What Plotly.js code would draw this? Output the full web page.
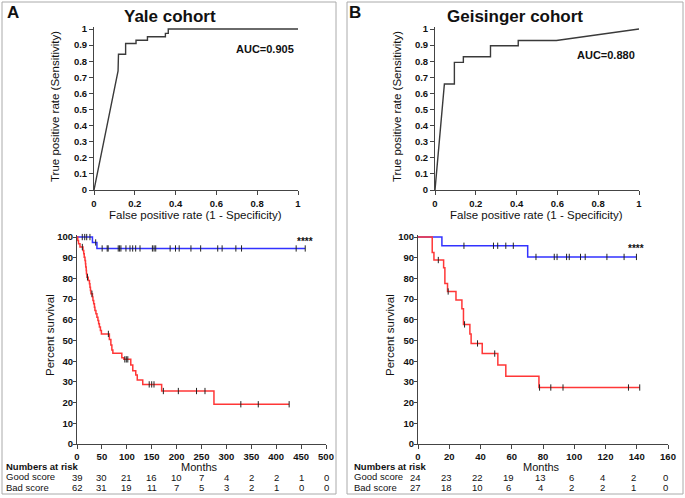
<!DOCTYPE html>
<html>
<head>
<meta charset="utf-8">
<script src="https://cdn.plot.ly/plotly-3.0.1.min.js"></script>
<style>
html,body{margin:0;padding:0;background:#fff;}
#chart{width:685px;height:498px;}
</style>
</head>
<body>
<div id="chart"></div>
<script>
// ---------------- DATA ----------------
// ROC curves
const rocA_fpr = [0, 0.118, 0.12, 0.155, 0.155, 0.206, 0.206, 0.262, 0.262, 0.35, 0.35, 0.364, 0.364, 1];
const rocA_tpr = [0, 0.74, 0.843, 0.843, 0.91, 0.91, 0.93, 0.93, 0.952, 0.952, 0.973, 0.973, 1, 1];
const rocB_fpr = [0, 0.046, 0.095, 0.095, 0.139, 0.139, 0.272, 0.272, 0.408, 0.408, 0.595, 1];
const rocB_tpr = [0, 0.658, 0.658, 0.793, 0.793, 0.828, 0.828, 0.896, 0.896, 0.929, 0.929, 1];
const aucA = "AUC=0.905";
const aucB = "AUC=0.880";

// Kaplan-Meier, Yale cohort
const kmA_good_t = [0, 31, 40, 458];
const kmA_good_s = [100, 97.4, 94.5, 94.5];
const kmA_good_cens_t = [10.6, 15.5, 19.5, 26, 37.5, 50.5, 60.6, 62.6, 82.8, 85.5, 88.2, 98.3, 106.4, 111.8, 117.8, 126.5, 151.4, 154.8, 158.1, 187, 197.8, 205.2, 228.8, 248.3, 282.6, 291.4, 319, 330.4, 440.1, 458.3];
const kmA_good_cens_s = [100, 100, 100, 100, 97.4, 94.5, 94.5, 94.5, 94.5, 94.5, 94.5, 94.5, 94.5, 94.5, 94.5, 94.5, 94.5, 94.5, 94.5, 94.5, 94.5, 94.5, 94.5, 94.5, 94.5, 94.5, 94.5, 94.5, 94.5, 94.5];
const kmA_bad_t = [0, 1.5, 3, 6, 12, 13.5, 14.5, 16, 17, 17.5, 18.5, 19, 20, 22.5, 25, 26, 27, 28, 31, 32, 33.5, 35, 36, 38, 40, 42, 43.5, 45, 47, 49, 65, 68, 70, 72, 90, 94, 108, 112, 118, 121, 132, 170, 275, 426];
const kmA_bad_s = [100, 98.4, 96.8, 95.2, 93.5, 91.9, 90.3, 88.7, 87.1, 85.5, 83.9, 82.3, 80.6, 79, 77.4, 75.8, 74.2, 72.6, 71, 69.4, 67.8, 66.1, 64.5, 62.9, 61.3, 59.7, 58.1, 56.5, 54.8, 53.2, 50.5, 47.8, 45.4, 43.8, 41.7, 40.9, 38.2, 35.4, 33.3, 30.9, 28.8, 25.6, 19.2, 19.2];
const kmA_bad_cens_t = [10.7, 21, 30, 63, 96, 99, 102, 145, 150, 154.6, 173.4, 203.5, 240, 257, 329, 364, 426];
const kmA_bad_cens_s = [95.2, 80.6, 72.6, 53.2, 40.9, 40.9, 40.9, 28.8, 28.8, 28.8, 25.6, 25.6, 25.6, 25.6, 19.2, 19.2, 19.2];

// Kaplan-Meier, Geisinger cohort
const kmB_good_t = [0, 15.3, 70.2, 139.8];
const kmB_good_s = [100, 95.8, 90.4, 90.4];
const kmB_good_cens_t = [29.4, 48.3, 51, 56.2, 61, 75.5, 87.2, 89, 95.1, 96.8, 104, 107, 120.9, 131.9, 139.8];
const kmB_good_cens_s = [95.8, 95.8, 95.8, 95.8, 95.8, 90.4, 90.4, 90.4, 90.4, 90.4, 90.4, 90.4, 90.4, 90.4, 90.4];
const kmB_bad_t = [0, 9.1, 10.2, 16.4, 17.2, 18.9, 24.3, 28.1, 29.1, 33.2, 34, 41.1, 51.1, 56.2, 77.4, 141.9];
const kmB_bad_s = [100, 92.6, 88.9, 85.2, 77.6, 73.7, 69.6, 65.4, 57.8, 53.2, 48.6, 43.7, 38.2, 32.8, 27.3, 27.3];
const kmB_bad_cens_t = [13, 19.3, 29.8, 38.1, 49.1, 77.8, 85, 92.8, 134.7, 141.9];
const kmB_bad_cens_s = [88.9, 73.7, 57.8, 48.6, 43.7, 27.3, 27.3, 27.3, 27.3, 27.3];

// Numbers at risk
const riskA_months = [0, 50, 100, 150, 200, 250, 300, 350, 400, 450, 500];
const riskA_good = [39, 30, 21, 16, 10, 7, 4, 2, 2, 1, 0];
const riskA_bad = [62, 31, 19, 11, 7, 5, 3, 2, 1, 0, 0];
const riskB_months = [0, 20, 40, 60, 80, 100, 120, 140, 160];
const riskB_good = [24, 23, 22, 19, 13, 6, 4, 2, 0];
const riskB_bad = [27, 18, 10, 6, 4, 2, 2, 1, 0];

// ---------------- STYLE ----------------
const W = 685, H = 498;
const FONT = "Arial, 'Liberation Sans', Helvetica, sans-serif";
const BLUE = "rgb(50,50,255)";
const RED = "rgb(255,55,55)";
const ROC_COL = "#3a3a3a";
const AX_COL = "#444444";
const px = v => v / W;
const py = v => 1 - v / H;

function rocTrace(x, y, xa, ya) {
  return {x: x, y: y, xaxis: xa, yaxis: ya, type: "scatter", mode: "lines",
          line: {color: ROC_COL, width: 1.4}, hoverinfo: "skip", showlegend: false};
}
function kmTrace(t, s, col, xa, ya) {
  return {x: t, y: s, xaxis: xa, yaxis: ya, type: "scatter", mode: "lines",
          line: {color: col, width: 1.5, shape: "hv"}, hoverinfo: "skip", showlegend: false};
}
function censTrace(t, s, xa, ya) {
  return {x: t, y: s, xaxis: xa, yaxis: ya, type: "scatter", mode: "markers",
          marker: {symbol: "line-ns", size: 4.5, color: "#222", line: {width: 1, color: "#222"}},
          cliponaxis: false, hoverinfo: "skip", showlegend: false};
}

const data = [
  rocTrace(rocA_fpr, rocA_tpr, "x", "y"),
  kmTrace(kmA_good_t, kmA_good_s, BLUE, "x2", "y2"),
  kmTrace(kmA_bad_t, kmA_bad_s, RED, "x2", "y2"),
  censTrace(kmA_good_cens_t, kmA_good_cens_s, "x2", "y2"),
  censTrace(kmA_bad_cens_t, kmA_bad_cens_s, "x2", "y2"),
  rocTrace(rocB_fpr, rocB_tpr, "x3", "y3"),
  kmTrace(kmB_good_t, kmB_good_s, BLUE, "x4", "y4"),
  kmTrace(kmB_bad_t, kmB_bad_s, RED, "x4", "y4"),
  censTrace(kmB_good_cens_t, kmB_good_cens_s, "x4", "y4"),
  censTrace(kmB_bad_cens_t, kmB_bad_cens_s, "x4", "y4")
];

function axis(extra) {
  return Object.assign({
    showgrid: false, zeroline: false, showline: true, linecolor: AX_COL, linewidth: 1,
    ticks: "outside", ticklen: 4, tickwidth: 1, tickcolor: AX_COL,
    tickfont: {family: FONT, size: 9.5, color: "#111", weight: "bold"},
    fixedrange: true
  }, extra);
}

const layout = {
  width: W, height: H,
  margin: {l: 0, r: 0, t: 0, b: 0},
  paper_bgcolor: "#fff", plot_bgcolor: "#fff",
  font: {family: FONT, color: "#111"},
  showlegend: false,
  // ROC A
  xaxis: axis({domain: [px(94), px(298)], anchor: "y", range: [0, 1], tickvals: [0, 0.2, 0.4, 0.6, 0.8, 1], ticktext: ["0", "0.2", "0.4", "0.6", "0.8", "1"], ticklabelstandoff: 1}),
  yaxis: axis({domain: [py(190), py(27.4)], anchor: "x", range: [0, 1.01], tickvals: [0, 0.1, 0.2, 0.3, 0.4, 0.5, 0.6, 0.7, 0.8, 0.9, 1], ticktext: ["0", "0.1", "0.2", "0.3", "0.4", "0.5", "0.6", "0.7", "0.8", "0.9", "1"]}),
  // KM A
  xaxis2: axis({domain: [px(77), px(326)], anchor: "y2", range: [0, 500], tickvals: riskA_months, ticklabelstandoff: 0}),
  yaxis2: axis({domain: [py(444), py(235)], anchor: "x2", range: [0, 101], ticklen: 3, tickvals: [0, 10, 20, 30, 40, 50, 60, 70, 80, 90, 100], ticklabelstandoff: -2}),
  // ROC B
  xaxis3: axis({domain: [px(435), px(639)], anchor: "y3", range: [0, 1], tickvals: [0, 0.2, 0.4, 0.6, 0.8, 1], ticktext: ["0", "0.2", "0.4", "0.6", "0.8", "1"], ticklabelstandoff: 1}),
  yaxis3: axis({domain: [py(190), py(27.4)], anchor: "x3", range: [0, 1.01], tickvals: [0, 0.1, 0.2, 0.3, 0.4, 0.5, 0.6, 0.7, 0.8, 0.9, 1], ticktext: ["0", "0.1", "0.2", "0.3", "0.4", "0.5", "0.6", "0.7", "0.8", "0.9", "1"]}),
  // KM B
  xaxis4: axis({domain: [px(418), px(668)], anchor: "y4", range: [0, 160], tickvals: riskB_months, ticklabelstandoff: 0}),
  yaxis4: axis({domain: [py(444), py(235)], anchor: "x4", range: [0, 101], ticklen: 3, tickvals: [0, 10, 20, 30, 40, 50, 60, 70, 80, 90, 100], ticklabelstandoff: -2}),
  shapes: [
    {type: "rect", xref: "paper", yref: "paper", x0: px(2), x1: px(336), y0: py(494), y1: py(2), line: {color: "#aaaaaa", width: 1}},
    {type: "rect", xref: "paper", yref: "paper", x0: px(347), x1: px(683), y0: py(494), y1: py(2), line: {color: "#aaaaaa", width: 1}}
  ],
  annotations: []
};

const A = layout.annotations;
function txt(text, x, y, opts) {
  A.push(Object.assign({text: text, xref: "paper", yref: "paper", x: px(x), y: py(y),
    xanchor: "center", yanchor: "middle", showarrow: false, borderpad: 0,
    font: {family: FONT, size: 11, color: "#111"}}, opts || {}));
}
const bold = (s) => ({family: FONT, size: s, color: "#111", weight: "bold"});
const reg = (s) => ({family: FONT, size: s, color: "#111"});

// panel letters and titles
txt("A", 13, 13, {font: bold(17)});
txt("B", 355, 13, {font: bold(17)});
txt("Yale cohort", 170, 17, {font: bold(17)});
txt("Geisinger cohort", 515, 17, {font: bold(17)});
txt(aucA, 265, 49, {font: bold(11)});
txt(aucB, 606, 55, {font: bold(11)});
// ROC axis titles
txt("True positive rate (Sensitivity)", 55, 107, {textangle: -90, font: reg(11.5)});
txt("True positive rate (Sensitivity)", 397, 107, {textangle: -90, font: reg(11.5)});
txt("False positive rate (1 - Specificity)", 196, 214.5, {font: reg(11.5)});
txt("False positive rate (1 - Specificity)", 536, 214.5, {font: reg(11.5)});
// KM titles
txt("Percent survival", 50, 335, {textangle: -90, font: reg(11.5)});
txt("Percent survival", 390, 335, {textangle: -90, font: reg(11.5)});
txt("Months", 200, 466.5, {font: reg(11)});
txt("Months", 541, 466.5, {font: reg(11)});
txt("****", 305, 241, {font: bold(10)});
txt("****", 636, 248, {font: bold(10)});
// numbers at risk labels
txt("Numbers at risk", 5, 466, {xanchor: "left", font: bold(9.5)});
txt("Good score", 5, 476.5, {xanchor: "left", font: reg(9.5)});
txt("Bad score", 5, 487, {xanchor: "left", font: reg(9.5)});
txt("Numbers at risk", 353, 466, {xanchor: "left", font: bold(9.5)});
txt("Good score", 353, 476.5, {xanchor: "left", font: reg(9.5)});
txt("Bad score", 353, 487, {xanchor: "left", font: reg(9.5)});

function riskRow(months, vals, xref, ypx, shift) {
  months.forEach((m, i) => {
    A.push({text: String(vals[i]), xref: xref, yref: "paper", x: m, y: py(ypx),
      xanchor: "center", yanchor: "middle", showarrow: false, xshift: shift, borderpad: 0,
      font: reg(9.5)});
  });
}
riskRow(riskA_months, riskA_good, "x2", 477, 0);
riskRow(riskA_months, riskA_bad, "x2", 487.5, 0);
riskRow(riskB_months, riskB_good, "x4", 477, -3);
riskRow(riskB_months, riskB_bad, "x4", 487.5, -3);

Plotly.newPlot("chart", data, layout, {displayModeBar: false, staticPlot: true});
</script>
</body>
</html>
